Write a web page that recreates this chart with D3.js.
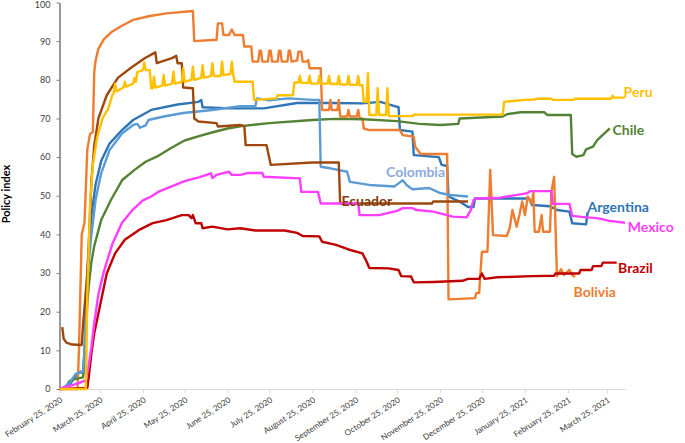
<!DOCTYPE html>
<html>
<head>
<meta charset="utf-8">
<script src="https://cdn.jsdelivr.net/npm/d3@7"></script>
<style>
  body { margin: 0; background: #fff; }
  text { font-family: Lato, "Open Sans", sans-serif; }
</style>
</head>
<body>
<div id="chart"></div>
<script>
// tick labels
const tickDates = ["2020-02-25", "2020-03-25", "2020-04-25", "2020-05-25", "2020-06-25", "2020-07-25",
  "2020-08-25", "2020-09-25", "2020-10-25", "2020-11-25", "2020-12-25", "2021-01-25", "2021-02-25", "2021-03-25"];
const yTicks = [0, 10, 20, 30, 40, 50, 60, 70, 80, 90, 100];

// series (date, policy index)
const argentina = [["2020-02-25",0],["2020-03-03",1],["2020-03-08",3.5],["2020-03-11",4.5],["2020-03-13",4],["2020-03-14",10],
  ["2020-03-16",30],["2020-03-19",45],["2020-03-22",53],["2020-03-26",59],["2020-04-01",63.5],["2020-04-10",67],["2020-04-18",69.6],
  ["2020-05-01",72.2],["2020-05-20",73.6],["2020-06-04",74.3],["2020-06-06",74.8],["2020-06-07",72.9],["2020-06-27",72.6],
  ["2020-07-21",72.6],["2020-08-14",74],["2020-09-07",74],["2020-09-30",73.9],["2020-10-13",74.3],["2020-10-25",73],["2020-10-26",73],
  ["2020-10-27",67],["2020-11-05",66.6],["2020-11-06",60.5],["2020-11-24",60],["2020-11-26",58],["2020-11-30",57.7],["2020-12-01",49.8],
  ["2020-12-09",48.5],["2020-12-15",47.1],["2020-12-19",47.1],["2020-12-20",49.3],["2021-01-28",49.3],["2021-01-30",47.6],
  ["2021-02-12",47.3],["2021-02-17",46.3],["2021-02-26",45.9],["2021-02-28",42.9],["2021-03-10",42.6],["2021-03-11",45.5],["2021-03-12",45.5]];

const bolivia = [["2020-02-25",0],["2020-03-09",0],["2020-03-10",10],["2020-03-12",40],["2020-03-14",43],["2020-03-16",62],
  ["2020-03-18",66],["2020-03-20",66.5],["2020-03-21",82],["2020-03-22",85],["2020-03-24",88],["2020-03-28",90.5],["2020-04-03",92.5],
  ["2020-04-10",94],["2020-04-18",95.5],["2020-04-30",96.5],["2020-05-12",97.2],["2020-05-31",97.8],["2020-06-01",90],["2020-06-14",90.3],
  ["2020-06-17",90.3],["2020-06-18",94.6],["2020-06-21",94.6],["2020-06-22",91.6],["2020-06-26",91.6],["2020-06-28",93],["2020-06-30",91.6],
  ["2020-07-06",91.6],["2020-07-07",88.6],["2020-07-12",88.6],["2020-07-13",84.7],["2020-07-17",84.7],["2020-07-18",87.5],["2020-07-19",87.5],
  ["2020-07-20",84.7],["2020-07-24",84.7],["2020-07-25",87.5],["2020-07-26",87.5],["2020-07-27",84.7],["2020-07-31",84.7],["2020-08-01",87.5],
  ["2020-08-02",87.5],["2020-08-03",84.7],["2020-08-07",84.7],["2020-08-08",87.5],["2020-08-09",87.5],["2020-08-10",84.7],["2020-08-14",85],
  ["2020-08-15",87.3],["2020-08-17",87.3],["2020-08-18",84.7],["2020-08-21",84.7],["2020-08-22",85.1],["2020-08-23",83],["2020-08-31",83],
  ["2020-09-01",72.2],["2020-09-06",72.2],["2020-09-07",74.8],["2020-09-08",72.2],["2020-09-12",72.2],["2020-09-13",74.8],["2020-09-14",70.5],
  ["2020-09-19",70.5],["2020-09-20",72.2],["2020-09-21",70.5],["2020-09-26",70.5],["2020-09-27",72.2],["2020-09-28",70],["2020-09-30",70],
  ["2020-10-01",67.4],["2020-10-05",67],["2020-10-27",67],["2020-10-29",65.7],["2020-11-06",65.3],["2020-11-07",62.7],["2020-11-11",60.8],
  ["2020-11-30",60.8],["2020-12-01",23.2],["2020-12-20",23.5],["2020-12-21",24.8],["2020-12-23",24.8],["2020-12-25",35.5],["2020-12-29",35.5],
  ["2020-12-31",56.7],["2021-01-02",39.8],["2021-01-12",39.6],["2021-01-14",41.6],["2021-01-16",46.3],["2021-01-19",42],["2021-01-21",45],
  ["2021-01-23",48.5],["2021-01-25",45],["2021-01-27",49.8],["2021-01-30",48],["2021-01-31",51],["2021-02-01",40.7],["2021-02-04",40.7],
  ["2021-02-06",45],["2021-02-07",40.7],["2021-02-12",40.7],["2021-02-13",51],["2021-02-15",54.9],["2021-02-17",29.2],["2021-02-20",31],
  ["2021-02-22",29.5],["2021-02-26",30.8],["2021-02-28",29.5],["2021-03-02",29]];

const brazil = [["2020-02-25",0],["2020-03-16",0.3],["2020-03-17",3],["2020-03-19",9.3],["2020-03-21",14.4],["2020-03-25",21.3],
  ["2020-03-30",29.9],["2020-04-05",35.1],["2020-04-12",38.6],["2020-04-22",41.1],["2020-05-02",42.9],["2020-05-12",43.7],["2020-05-23",45],
  ["2020-05-28",45],["2020-05-30",44.2],["2020-05-31",45],["2020-06-02",42.9],["2020-06-06",42.9],["2020-06-07",41.6],["2020-06-14",42],
  ["2020-06-25",41.3],["2020-07-04",41.6],["2020-07-15",41],["2020-08-05",41],["2020-08-14",40.4],["2020-08-18",39.6],["2020-08-30",39.5],
  ["2020-09-01",38.1],["2020-09-11",37.3],["2020-09-20",36.1],["2020-09-30",35.1],["2020-10-03",33],["2020-10-05",31.3],["2020-10-19",31.2],
  ["2020-10-26",30.8],["2020-10-28",29.2],["2020-11-04",29.1],["2020-11-06",27.6],["2020-11-20",27.7],["2020-12-11",28],["2020-12-15",28.5],
  ["2020-12-23",28.5],["2020-12-25",29.9],["2020-12-27",28.5],["2021-01-05",28.9],["2021-01-30",29.2],["2021-02-15",29.3],["2021-02-16",29.9],
  ["2021-03-05",29.9],["2021-03-06",30.8],["2021-03-14",30.8],["2021-03-15",31.8],["2021-03-21",31.8],["2021-03-22",32.7],["2021-04-01",32.7]];

const chile = [["2020-02-29",0],["2020-03-03",2],["2020-03-06",2.5],["2020-03-13",3],["2020-03-14",8],["2020-03-16",22],["2020-03-17",26.5],
  ["2020-03-19",33],["2020-03-21",37],["2020-03-26",43.7],["2020-04-02",48.9],["2020-04-10",54],["2020-04-19",56.7],["2020-04-27",58.8],
  ["2020-05-05",60.1],["2020-05-15",62.3],["2020-05-25",64.3],["2020-06-05",65.5],["2020-06-15",66.5],["2020-06-25",67.4],["2020-07-05",68],
  ["2020-07-25",68.8],["2020-08-25",69.6],["2020-09-10",69.9],["2020-10-01",69.8],["2020-10-25",69.3],["2020-11-10",68.6],["2020-11-25",68.3],
  ["2020-12-08",68.6],["2020-12-09",70],["2021-01-09",70.5],["2021-01-12",71.1],["2021-01-22",71.6],["2021-02-08",71.6],["2021-02-10",70.9],
  ["2021-02-27",70.9],["2021-02-28",60.8],["2021-03-03",60.1],["2021-03-08",60.5],["2021-03-10",62],["2021-03-15",62.7],["2021-03-18",64.4],
  ["2021-03-23",66.1],["2021-03-27",67.4]];

const colombia = [["2020-02-27",0],["2020-03-03",1.5],["2020-03-08",4],["2020-03-13",4.5],["2020-03-14",10],["2020-03-16",29],["2020-03-19",40],
  ["2020-03-22",49],["2020-03-26",55.8],["2020-04-01",61.8],["2020-04-10",66.1],["2020-04-18",68.3],["2020-04-21",68.6],["2020-04-23",67.6],
  ["2020-04-27",68.2],["2020-04-29",69.6],["2020-05-10",70.5],["2020-05-24",71.4],["2020-06-14",72.2],["2020-07-04",73.2],["2020-07-15",73.2],
  ["2020-07-16",75.2],["2020-07-25",74.7],["2020-08-08",75.2],["2020-08-25",74.8],["2020-08-30",74.8],["2020-08-31",57.5],["2020-09-07",57.1],
  ["2020-09-19",56.2],["2020-09-21",53.6],["2020-10-05",52.8],["2020-10-23",52.4],["2020-10-26",53.2],["2020-10-29",54],["2020-11-01",52.7],
  ["2020-11-05",51.7],["2020-11-17",52],["2020-11-25",50.7],["2020-12-02",50.2],["2020-12-15",49.8]];

const ecuador = [["2020-02-27",16],["2020-02-28",13],["2020-03-01",12],["2020-03-05",11.5],["2020-03-12",11.4],["2020-03-13",17],
  ["2020-03-14",21],["2020-03-16",30],["2020-03-17",37],["2020-03-19",54],["2020-03-21",63],["2020-03-24",70],["2020-03-30",76],
  ["2020-04-07",80.5],["2020-04-16",83],["2020-04-26",85.5],["2020-05-04",87.1],["2020-05-05",84.3],["2020-05-16",85.6],["2020-05-19",86.2],
  ["2020-05-20",84.3],["2020-05-23",84.3],["2020-05-24",78],["2020-05-31",77.8],["2020-06-01",70],["2020-06-04",69.2],["2020-06-17",68.8],
  ["2020-06-18",67.9],["2020-07-04",68.3],["2020-07-07",68],["2020-07-08",63.1],["2020-07-23",63.1],["2020-07-26",58],["2020-08-25",58.6],
  ["2020-09-13",58.6],["2020-09-14",48],["2020-11-19",48],["2020-11-20",48.5],["2020-12-15",48.5]];

const mexico = [["2020-02-25",0],["2020-03-05",1],["2020-03-10",1.5],["2020-03-15",2.3],["2020-03-17",6],["2020-03-19",11],["2020-03-21",17],
  ["2020-03-24",24.5],["2020-03-28",30.5],["2020-04-03",37.5],["2020-04-10",43],["2020-04-18",46.5],["2020-04-25",48.8],["2020-05-01",49.8],
  ["2020-05-06",51],["2020-05-25",53.8],["2020-06-05",54.8],["2020-06-13",55.8],["2020-06-14",54.6],["2020-06-17",55.4],["2020-06-26",56.2],
  ["2020-06-28",55.4],["2020-07-04",55.4],["2020-07-10",55.9],["2020-07-20",55.9],["2020-07-21",54.9],["2020-08-16",54.5],["2020-08-17",51],
  ["2020-08-29",51],["2020-08-31",48],["2020-09-27",48],["2020-09-28",45],["2020-10-12",45],["2020-10-25",46.1],["2020-10-29",46.8],
  ["2020-11-05",46.8],["2020-11-08",46.3],["2020-11-20",45.9],["2020-12-04",44.6],["2020-12-14",44.4],["2020-12-17",46.3],["2020-12-19",48.9],
  ["2020-12-21",49.3],["2021-01-07",49.5],["2021-01-26",50.6],["2021-01-29",51.2],["2021-02-13",51.2],["2021-02-14",47.9],["2021-02-26",47.9],
  ["2021-02-28",44.8],["2021-03-10",44.4],["2021-03-18",44.2],["2021-03-27",43.5],["2021-04-07",43]];

const peru = [["2020-02-25",0],["2020-03-15",0],["2020-03-16",24],["2020-03-18",48],["2020-03-20",58],["2020-03-23",65],["2020-03-27",70],
  ["2020-03-31",72.5],["2020-04-03",76],["2020-04-04",76.5],["2020-04-05",79],["2020-04-06",77],["2020-04-11",78],["2020-04-12",79.5],
  ["2020-04-13",78.2],["2020-04-18",79],["2020-04-19",80.5],["2020-04-20",79.5],["2020-04-21",82],["2020-04-25",82.5],["2020-04-26",84.5],
  ["2020-04-27",82.5],["2020-04-30",82.5],["2020-05-01",77.8],["2020-05-02",77.8],["2020-05-03",80.8],["2020-05-04",78],["2020-05-09",78.5],
  ["2020-05-10",81.2],["2020-05-11",78.5],["2020-05-16",79],["2020-05-17",82.1],["2020-05-18",79],["2020-05-23",79.5],["2020-05-24",83],
  ["2020-05-25",79.5],["2020-05-30",80],["2020-05-31",83.4],["2020-06-01",80],["2020-06-06",80.5],["2020-06-07",83.8],["2020-06-08",80.5],
  ["2020-06-13",81],["2020-06-14",84.3],["2020-06-15",81],["2020-06-20",81],["2020-06-21",84.7],["2020-06-22",81.2],["2020-06-27",81.5],
  ["2020-06-28",84.7],["2020-06-29",81.5],["2020-06-30",79.5],["2020-07-13",79.5],["2020-07-14",74.8],["2020-07-30",75.2],["2020-07-31",76],
  ["2020-08-11",76],["2020-08-12",79.3],["2020-08-15",79.3],["2020-08-16",81],["2020-08-17",79.2],["2020-08-22",79.2],["2020-08-23",81],
  ["2020-08-24",79],["2020-08-29",79],["2020-08-30",81],["2020-08-31",79],["2020-09-05",79],["2020-09-06",81],["2020-09-07",78.9],
  ["2020-09-12",78.9],["2020-09-13",81],["2020-09-14",78.8],["2020-09-19",78.8],["2020-09-20",81],["2020-09-21",78.7],["2020-09-26",78.7],
  ["2020-09-27",81],["2020-09-28",78.6],["2020-09-30",78.6],["2020-10-01",74.3],["2020-10-03",74.3],["2020-10-04",81.7],["2020-10-05",70.9],
  ["2020-10-10",70.9],["2020-10-11",77.8],["2020-10-12",70.9],["2020-10-17",70.9],["2020-10-18",77.8],["2020-10-19",70.6],["2020-11-05",70.6],
  ["2020-11-06",71],["2021-01-09",71],["2021-01-10",74.3],["2021-01-25",74.8],["2021-02-01",74.9],["2021-02-02",75.1],["2021-02-13",75.1],
  ["2021-02-14",74.8],["2021-03-01",74.8],["2021-03-02",75.1],["2021-03-28",75.1],["2021-03-29",75.9],["2021-03-30",75.4],["2021-04-07",75.4]];

const countries = ["Argentina", "Bolivia", "Brazil", "Chile", "Colombia", "Ecuador", "Mexico", "Peru"];
const seriesData = [argentina, bolivia, brazil, chile, colombia, ecuador, mexico, peru];
const lineColors = ["#2e75b6", "#ed7d31", "#c00000", "#548235", "#5b9bd5", "#9e480e", "#ff3dff", "#ffc000"];
const labelColors = ["#2e75b6", "#ed7d31", "#c00000", "#548235", "#8faadc", "#843c0c", "#ff3dff", "#ffc000"];
// where each country's name sits (date, index at text baseline)
const labelDates = ["2021-03-11", "2021-03-01", "2021-04-02", "2021-03-29", "2020-10-17", "2020-09-15", "2021-04-09", "2021-04-06"];
const labelValues = [45.9, 23.9, 30.1, 65.7, 54.9, 47.3, 40.7, 75.5];

const width = 685, height = 443;
const parse = d3.timeParse("%Y-%m-%d");

const svg = d3.select("#chart").append("svg")
    .attr("width", width)
    .attr("height", height)
    .style("background", "#fff");

const x = d3.scaleTime()
    .domain([parse("2020-02-25"), parse("2021-04-07")])
    .range([59.5, 625]);

const y = d3.scaleLinear()
    .domain([0, 100])
    .range([389, 2.5]);

// x axis
const fmt = d3.timeFormat("%B %-d, %Y");
const xAxis = svg.append("g")
    .attr("transform", "translate(0,389)")
    .call(d3.axisBottom(x)
        .tickValues(tickDates.map(parse))
        .tickSize(4)
        .tickSizeOuter(0)
        .tickFormat(fmt));
xAxis.select(".domain").attr("stroke", "#d9d9d9").attr("stroke-width", 1.2);
xAxis.selectAll(".tick line").attr("stroke", "#d9d9d9");
xAxis.selectAll(".tick text")
    .attr("x", 0).attr("y", 0).attr("dy", "0.35em")
    .attr("text-anchor", "end")
    .attr("transform", "translate(1.5,10) rotate(-33)")
    .attr("fill", "#404040")
    .style("font-size", "8.2px");

// y axis
const yAxis = svg.append("g")
    .attr("transform", "translate(59.5,0)")
    .call(d3.axisLeft(y)
        .tickValues(yTicks)
        .tickSize(3)
        .tickSizeOuter(0)
        .tickPadding(6));
yAxis.select(".domain").attr("stroke", "#7f7f7f").attr("stroke-width", 1.6);
yAxis.selectAll(".tick line").attr("stroke", "#7f7f7f");
yAxis.selectAll(".tick text")
    .attr("fill", "#404040")
    .style("font-size", "9px")
    .attr("dy", d => d === 100 ? "0.5em" : "0.32em");

svg.append("text")
    .attr("transform", "translate(9.5,194) rotate(-90)")
    .attr("text-anchor", "middle")
    .style("font-size", "11px")
    .style("font-weight", "bold")
    .attr("fill", "#000")
    .text("Policy index");

// lines
const line = d3.line()
    .x(d => x(parse(d[0])))
    .y(d => y(d[1]));

svg.selectAll(".country")
    .data(seriesData)
    .enter()
    .append("path")
    .attr("class", "country")
    .attr("d", line)
    .attr("fill", "none")
    .attr("stroke", (d, i) => lineColors[i])
    .attr("stroke-width", 2.4)
    .attr("stroke-linejoin", "round");

// country names
svg.selectAll(".name")
    .data(countries)
    .enter()
    .append("text")
    .attr("class", "name")
    .attr("x", (d, i) => x(parse(labelDates[i])))
    .attr("y", (d, i) => y(labelValues[i]))
    .attr("fill", (d, i) => labelColors[i])
    .style("font-size", "14px")
    .style("font-weight", "bold")
    .text(d => d);
</script>
</body>
</html>
